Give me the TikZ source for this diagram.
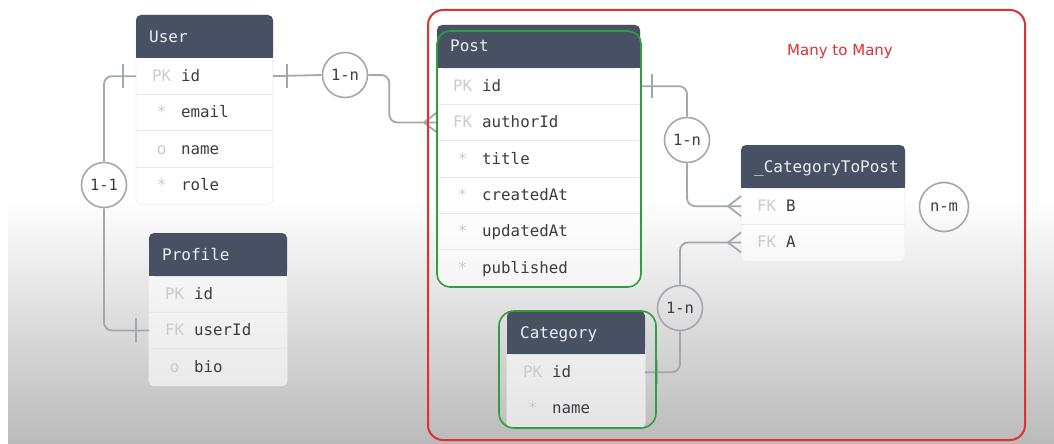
\documentclass[tikz,border=0pt]{standalone}
\usepackage{fontspec}
\newfontfamily\ermono{DejaVu Sans Mono}
\newfontfamily\ernote{DejaVu Sans}

\definecolor{headfill}{HTML}{485163}
\definecolor{linkgray}{HTML}{A3A7AE}
\definecolor{keygray}{HTML}{CBCBCB}
\definecolor{fieldtext}{HTML}{3A3D42}
\definecolor{framered}{HTML}{E0302F}
\definecolor{markgreen}{HTML}{2E9E3E}

\tikzset{
	tblbody/.style={fill=white, fill opacity=0.6, draw=black!7, line width=0.6pt, rounded corners=5pt},
	tblhead/.style={rectangle, fill=headfill, rounded corners=5pt, inner sep=0pt, outer sep=0pt, minimum height=43pt},
	tbltitle/.style={anchor=base west, inner sep=0pt, text=white!90!headfill, font=\ermono\fontsize{16}{18}\selectfont},
	tblrow/.style={rectangle, inner sep=0pt, outer sep=0pt, minimum height=36.3pt},
	rowline/.style={draw=black!9, line width=0.7pt},
	tblkey/.style={anchor=base west, inner sep=0pt, text=keygray, font=\ermono\fontsize{15.8}{18}\selectfont},
	tblfield/.style={anchor=base west, inner sep=0pt, text=fieldtext, font=\ermono\fontsize{15.8}{18}\selectfont},
	link/.style={draw=linkgray, line width=1.8pt, rounded corners=8pt},
	card/.style={circle, draw=linkgray, line width=1.6pt, minimum size=45pt, inner sep=0pt, text=fieldtext, font=\ermono\fontsize{15.5}{17}\selectfont},
}

% #1 name, #2 x, #3 y, #4 width, #5 rows, #6 title, #7 key/field list
\newcommand{\ertable}[7]{%
	\fill[tblbody] (#2,#3) rectangle ++(#4,{43+#5*36.3+1});
	\node[tblhead, minimum width=#4pt, anchor=north west] (#1) at (#2,#3) {};
	\fill[headfill] ([yshift=8pt]#1.south west) rectangle (#1.south east);
	\node[tbltitle] at ([xshift=13pt,yshift=-5.5pt]#1.west) {#6};
	\foreach \key/\field [count=\i] in {#7} {
		\node[tblrow, minimum width=#4pt, anchor=north west] (#1-\field) at (#2,{#3+43+(\i-1)*36.3}) {};
		\ifnum\i>1 \draw[rowline] (#1-\field.north west) -- (#1-\field.north east); \fi
		\node[tblkey] at ([xshift=16pt,yshift=-5.5pt]#1-\field.west) {\makebox[19pt]{\key}};
		\node[tblfield] at ([xshift=45pt,yshift=-5.5pt]#1-\field.west) {\field};
	}%
}

\begin{document}
\begin{tikzpicture}[x=1pt, y=-1pt]
	\useasboundingbox (0,0) rectangle (1054,444);
	\fill[white] (0,0) rectangle (1054,444);
	\shade[top color=white, bottom color=black!27] (8,198) rectangle (1054,444);

	% tables
	\ertable{user}{136}{15}{137}{4}{User}{PK/id, */email, o/name, */role}
	\ertable{profile}{149}{233}{138}{3}{Profile}{PK/id, FK/userId, o/bio}
	\ertable{post}{437}{25}{203}{6}{Post}{PK/id, FK/authorId, */title, */createdAt, */updatedAt, */published}
	\ertable{ctp}{741}{145}{164}{2}{\_CategoryToPost}{FK/B, FK/A}
	\ertable{category}{507}{311}{138}{2}{Category}{PK/id, */name}

	% cardinality circles
	\node[card] (un) at (345,75) {1-n};
	\node[card] (uo) at (104,185) {1-1};
	\node[card] (pc) at (687,140) {1-n};
	\node[card] (cc) at (680,308) {1-n};
	\node[card, minimum size=49pt] (nm) at (944,207) {n-m};

	% User -- Post
	\draw[link] (user-id.east) -- (un.west);
	\draw[link] (un.east) -- ++(21,0) |- (post-authorId.west);
	\draw[link] ([xshift=14pt,yshift=12pt]user-id.east) -- ([xshift=14pt,yshift=-12pt]user-id.east);
	\draw[link] ([xshift=-13pt]post-authorId.west) -- ([yshift=10pt]post-authorId.west)
		([xshift=-13pt]post-authorId.west) -- ([yshift=-10pt]post-authorId.west);

	% User -- Profile
	\draw[link] (user-id.west) -| (uo.north);
	\draw[link] (uo.south) |- (profile-userId.west);
	\draw[link] ([xshift=-13pt,yshift=12pt]user-id.west) -- ([xshift=-13pt,yshift=-12pt]user-id.west);
	\draw[link] ([xshift=-13pt,yshift=12pt]profile-userId.west) -- ([xshift=-13pt,yshift=-12pt]profile-userId.west);

	% Post -- _CategoryToPost
	\draw[link] (post-id.east) -| (pc.north);
	\draw[link] (pc.south) |- (ctp-B.west);
	\draw[link] ([xshift=12pt,yshift=12pt]post-id.east) -- ([xshift=12pt,yshift=-12pt]post-id.east);
	\draw[link] ([xshift=-13pt]ctp-B.west) -- ([yshift=10pt]ctp-B.west)
		([xshift=-13pt]ctp-B.west) -- ([yshift=-10pt]ctp-B.west);

	% Category -- _CategoryToPost
	\draw[link] (category-id.east) -| (cc.south);
	\draw[link] (cc.north) |- (ctp-A.west);
	\draw[link] ([xshift=12pt,yshift=12pt]category-id.east) -- ([xshift=12pt,yshift=-12pt]category-id.east);
	\draw[link] ([xshift=-13pt]ctp-A.west) -- ([yshift=10pt]ctp-A.west)
		([xshift=-13pt]ctp-A.west) -- ([yshift=-10pt]ctp-A.west);

	% highlights
	\draw[markgreen, line width=1.6pt, rounded corners=13pt] (437,31) rectangle (641,287);
	\draw[markgreen, line width=1.6pt, rounded corners=15pt] (499,311) rectangle (656,428);
	\draw[framered, line width=2pt, rounded corners=15pt] (428,10) rectangle (1025,440);
	\node[text=framered, font=\ernote\fontsize{15}{18}\selectfont] (mtm) at (840,52) {Many to Many};
\end{tikzpicture}
\end{document}
